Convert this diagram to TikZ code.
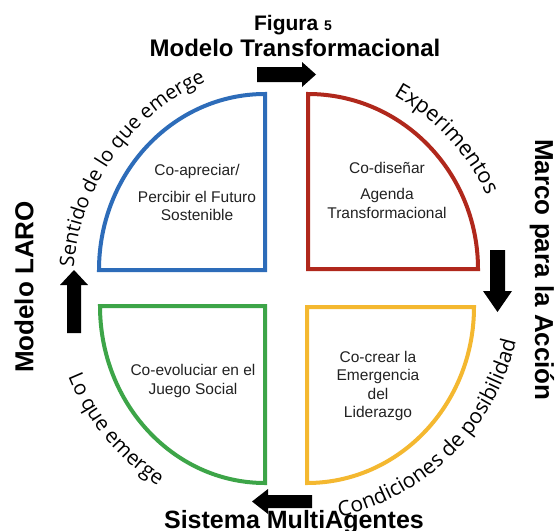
\documentclass[tikz,border=0pt]{standalone}
\usepackage{fontspec}
\setmainfont{Liberation Sans}
\newfontfamily\curvefont{Open Sans}
\usetikzlibrary{decorations.text}
\definecolor{qblue}{HTML}{2D6CB9}
\definecolor{qred}{HTML}{B0281C}
\definecolor{qgreen}{HTML}{3DA548}
\definecolor{qyellow}{HTML}{F4B830}
\definecolor{qtxt}{HTML}{222222}
\begin{document}
\begin{tikzpicture}[x=1pt,y=-1pt,
  quad/.style={line width=4pt, line join=miter},
  qtext/.style={font=\fontsize{15.5}{18.5}\selectfont, align=center, text=qtxt, inner sep=0pt},
  bigtitle/.style={font=\fontsize{24}{28}\selectfont\bfseries, inner sep=0pt},
  sidetitle/.style={font=\fontsize{26}{30}\selectfont\bfseries, inner sep=0pt},
  blockarrow/.style={fill=black},
  curvetext/.style={decorate, decoration={text along path, text align=left, text={#1}}}]
\useasboundingbox (0,0) rectangle (559,530);
\fill[white] (0,0) rectangle (559,530);
\coordinate (c) at (287,288);
\coordinate (cs) at (295,285);

% quadrants
\draw[quad, qblue] (265,270) -- (99,270) arc[start angle=180, end angle=270, x radius=166, y radius=176] -- cycle;
\draw[quad, qred] (308,269) -- (308,94) arc[start angle=270, end angle=360, x radius=170, y radius=175] -- cycle;
\draw[quad, qyellow] (307,307) -- (474,307) arc[start angle=0, end angle=90, x radius=167, y radius=176] -- cycle;
\draw[quad, qgreen] (265,306) -- (265,483) arc[start angle=90, end angle=180, x radius=165, y radius=177] -- cycle;

% quadrant texts
\node[qtext] (tblue) at (197,192.5) {Co-apreciar/\\[8pt]Percibir el Futuro\\Sostenible};
\node[qtext] (tred) at (387,190) {Co-diseñar\\[8pt]Agenda\\Transformacional};
\node[qtext] (tgreen) at (193,381) {Co-evoluciar en el\\Juego Social};
\node[qtext] (tyellow) at (378,386) {Co-crear la\\Emergencia\\del\\Liderazgo};

% curved texts
\path[curvetext={|\curvefont\fontsize{20}{23}\selectfont|Sentido de lo que emerge}]
  ([shift={(-175.5:222)}]cs) arc[start angle=-175.5, end angle=-60, radius=222];
\path[curvetext={|\curvefont\fontsize{21.5}{24}\selectfont|Experimentos}]
  ([shift={(-61:220)}]c) arc[start angle=-61, end angle=10, radius=220];
\path[curvetext={|\curvefont\fontsize{21}{24}\selectfont|Condiciones de posibilidad}]
  ([shift={(77:235)}]c) arc[start angle=77, end angle=-40, radius=235];
\path[curvetext={|\curvefont\fontsize{20.5}{23}\selectfont|Lo que emerge}]
  ([shift={(-202:236)}]c) arc[start angle=-202, end angle=-280, radius=236];

% block arrows
\fill[blockarrow] (257,67) -- (302,67) -- (302,62) -- (316,74.5) -- (302,87) -- (302,82) -- (257,82) -- cycle;
\fill[blockarrow] (67,333) -- (67,285) -- (60,285) -- (74,270) -- (88,285) -- (81,285) -- (81,333) -- cycle;
\fill[blockarrow] (490,250) -- (505,250) -- (505,291) -- (512,291) -- (497.5,312) -- (483,291) -- (490,291) -- cycle;
\fill[blockarrow] (312,495) -- (268,495) -- (268,489) -- (252,501.5) -- (268,514) -- (268,508) -- (312,508) -- cycle;

% titles
\node[font=\fontsize{21}{24}\selectfont\bfseries, inner sep=0pt] (fig) at (293,25) {Figura {\fontsize{14}{14}\selectfont 5}};
\node[bigtitle] (title) at (295,48) {Modelo Transformacional};
\node[sidetitle, rotate=90] (laro) at (24,287) {Modelo LARO};
\node[sidetitle, rotate=-90] (marco) at (542,270) {Marco para la Acción};
\node[bigtitle, font=\fontsize{25}{28}\selectfont\bfseries] (sma) at (294,522) {Sistema MultiAgentes};
\end{tikzpicture}
\end{document}
